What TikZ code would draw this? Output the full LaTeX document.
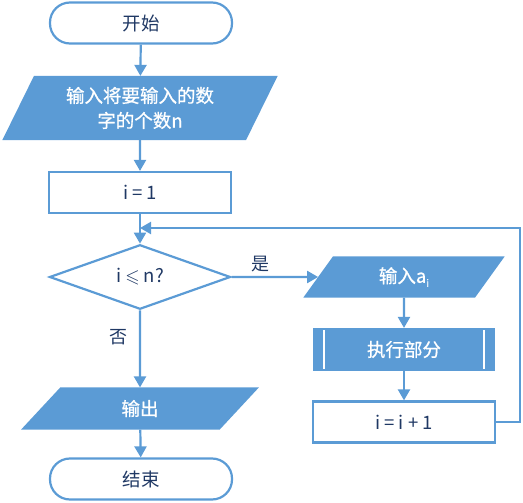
\documentclass[tikz,border=0pt]{standalone}
\usepackage{fontspec}
\usepackage{amssymb}
\setmainfont{Noto Sans CJK SC}
\newfontfamily\semib[FakeBold=0.8]{Noto Sans CJK SC}
\usetikzlibrary{shapes.geometric,arrows.meta}
\definecolor{fb}{HTML}{5B9BD5}
\definecolor{tx}{HTML}{1F3864}
\begin{document}
\begin{tikzpicture}[x=1pt,y=-1pt,
  base/.style={line width=2.2pt, draw=fb, font=\fontsize{18.5}{23}\selectfont, text=tx, inner sep=0pt, align=center},
  term/.style={base, rectangle, rounded corners=20pt, minimum width=182pt, minimum height=41pt},
  proc/.style={base, rectangle, minimum width=182pt, minimum height=41pt},
  io/.style={base, trapezium, trapezium left angle=63, trapezium right angle=117, trapezium stretches=true, fill=fb, text=white, font=\fontsize{18.5}{25}\selectfont\semib},
  dec/.style={base, diamond, minimum width=181pt, minimum height=64pt},
  pre/.style={base, rectangle, fill=fb, text=white, font=\fontsize{18.5}{23}\selectfont\semib, minimum width=180pt, minimum height=41pt,
    path picture={\draw[white,line width=1.2pt] ([xshift=10pt]path picture bounding box.north west) -- ([xshift=10pt]path picture bounding box.south west);
                  \draw[white,line width=1.2pt] ([xshift=-10pt]path picture bounding box.north east) -- ([xshift=-10pt]path picture bounding box.south east);}},
  lbl/.style={font=\fontsize{18}{20}\selectfont, text=tx, inner sep=0pt},
  arr/.style={draw=fb, line width=2.2pt, -{Triangle[length=11pt,width=12pt]}}
]
\useasboundingbox (0,0) rectangle (523,503);
\node[term] (start) at (141,23) {开始};
\node[io, minimum width=272pt, minimum height=62pt] (in1) at (140,108) {输入将要输入的数\\字的个数n};
\node[proc] (b1) at (140,192.5) {i = 1};
\node[dec] (dec) at (140,277) {i $\leqslant$ n?};
\node[io, minimum width=198pt, minimum height=39pt] (in2) at (404,277) {输入a\raisebox{-0.4ex}{\fontsize{10}{10}\selectfont\mdseries i}};
\node[pre] (run) at (404,349.5) {执行部分};
\node[proc] (inc) at (404,422) {i = i + 1};
\node[io, minimum width=234pt, minimum height=40pt] (out) at (140,408.5) {输出};
\node[term] (end) at (141,479) {结束};
\node[lbl] (yes) at (260,264) {是};
\node[lbl] (no) at (118,337) {否};
\coordinate (join) at (140,228);
\coordinate (rr) at (520,422);
\draw[arr] (start) -- (in1);
\draw[arr] (in1) -- (b1);
\draw[arr] (b1) -- (dec);
\draw[arr] (dec) -- (in2);
\draw[arr] (in2) -- (run);
\draw[arr] (run) -- (inc);
\draw[arr] (inc.east) -- (rr) |- (join);
\draw[arr] (dec) -- (out);
\draw[arr] (out) -- (end);
\end{tikzpicture}
\end{document}
